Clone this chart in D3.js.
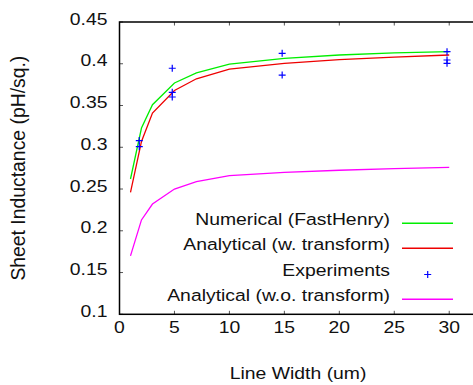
<!DOCTYPE html>
<html>
<head>
<meta charset="utf-8">
<script src="https://cdn.jsdelivr.net/npm/d3@7"></script>
<style>
  body{margin:0;background:#fff;}
  svg{display:block;font-family:"Liberation Sans",Arial,sans-serif;}
</style>
</head>
<body>
<svg id="chart" width="473" height="385"></svg>
<script>
// data-------------------------
var widths=[1,2,3,5,7,10,15,20,25,30];
var numerical=[0.262,0.323,0.351,0.377,0.389,0.3995,0.4065,0.4105,0.413,0.4145];
var analytical=[0.246,0.307,0.341,0.368,0.382,0.3937,0.4005,0.405,0.408,0.4105];
var analyticalNoT=[0.170,0.213,0.232,0.250,0.2588,0.266,0.270,0.2725,0.2745,0.276];
var expX=[1.8,1.8,4.8,4.8,4.8,14.8,14.8,29.8,29.8,29.8];
var expY=[0.308,0.3007,0.3946,0.3658,0.3602,0.4125,0.3865,0.4145,0.4045,0.4005];
var xTicks=[0,5,10,15,20,25,30];
var yTicks=[0.1,0.15,0.2,0.25,0.3,0.35,0.4,0.45];

var series=[
  {name:'Numerical (FastHenry)',values:numerical,color:'#00ee00'},
  {name:'Analytical (w. transform)',values:analytical,color:'#ee0000'},
  {name:'Experiments',values:null,color:'#0000ff'},
  {name:'Analytical (w.o. transform)',values:analyticalNoT,color:'#ff00ff'}
];

// scales-------------------------
var svg=d3.select('#chart');
var pLeft=119.5,pTop=22,pBottom=314.3,pRight=476.7;
var x=d3.scaleLinear().domain([0,32.5]).range([pLeft,pRight]);
var y=d3.scaleLinear().domain([0.1,0.45]).range([pBottom,pTop]);
var fs=17,stretch=1.14;

// text helper, glyphs a bit wider than tall like the original
function label(px,py,str,anchor,rot){
  var g=svg.append('g')
    .attr('transform','translate('+px+','+py+')'+(rot?' rotate('+rot+')':'')+' scale('+stretch+',1)');
  g.append('text')
    .attr('text-anchor',anchor).attr('font-size',fs).attr('fill','#111')
    .text(str);
  return g;
}

// ticks, inward and mirrored
var tickLen=3.5;
var ticks=svg.append('g').attr('stroke','#555').attr('stroke-width',1);
xTicks.forEach(function(t){
  ticks.append('line').attr('x1',x(t)).attr('x2',x(t)).attr('y1',pBottom).attr('y2',pBottom-tickLen);
  ticks.append('line').attr('x1',x(t)).attr('x2',x(t)).attr('y1',pTop).attr('y2',pTop+tickLen);
});
yTicks.forEach(function(t){
  ticks.append('line').attr('x1',pLeft).attr('x2',pLeft+tickLen).attr('y1',y(t)).attr('y2',y(t));
  ticks.append('line').attr('x1',pRight).attr('x2',pRight-tickLen).attr('y1',y(t)).attr('y2',y(t));
});

// frame
svg.append('rect')
  .attr('x',pLeft).attr('y',pTop)
  .attr('width',pRight-pLeft).attr('height',pBottom-pTop)
  .attr('fill','none').attr('stroke','#000').attr('stroke-width',1.5);

// tick labels
yTicks.forEach(function(t){label(107.5,y(t)+2.5,String(+t.toFixed(2)),'end');});
xTicks.forEach(function(t){label(x(t),332.7,String(t),'middle');});

// axis titles
label((pLeft+pRight)/2,378.7,'Line Width (um)','middle');
svg.append('text')
  .attr('transform','translate(25,'+((pTop+pBottom)/2)+') rotate(-90)')
  .attr('text-anchor','middle').attr('font-size',fs*stretch).attr('fill','#111')
  .text('Sheet Inductance (pH/sq.)');

// lines-------------------------
var line=d3.line()
  .x(function(d,i){return x(widths[i]);})
  .y(function(d){return y(d);});
series.forEach(function(s){
  if(!s.values)return;
  svg.append('path').datum(s.values)
    .attr('d',line).attr('fill','none')
    .attr('stroke',s.color).attr('stroke-width',1.3);
});

// experiment markers
function plus(g,cx,cy,color){
  g.append('path')
    .attr('d','M'+(cx-3.5)+','+cy+'h7M'+cx+','+(cy-3.5)+'v7')
    .attr('stroke',color).attr('stroke-width',1.2).attr('fill','none');
}
var marks=svg.append('g');
expX.forEach(function(v,i){plus(marks,x(v),y(expY[i]),'#0000ff');});

// legend-------------------------
var rowY=[225,250,276,301];
series.forEach(function(s,i){
  label(390,rowY[i],s.name,'end');
  if(s.values){
    svg.append('line')
      .attr('x1',402).attr('x2',453)
      .attr('y1',rowY[i]-1.7).attr('y2',rowY[i]-1.7)
      .attr('stroke',s.color).attr('stroke-width',1.6);
  }else{
    plus(svg,427.7,rowY[i]-1.5,s.color);
  }
});
</script>
</body>
</html>
